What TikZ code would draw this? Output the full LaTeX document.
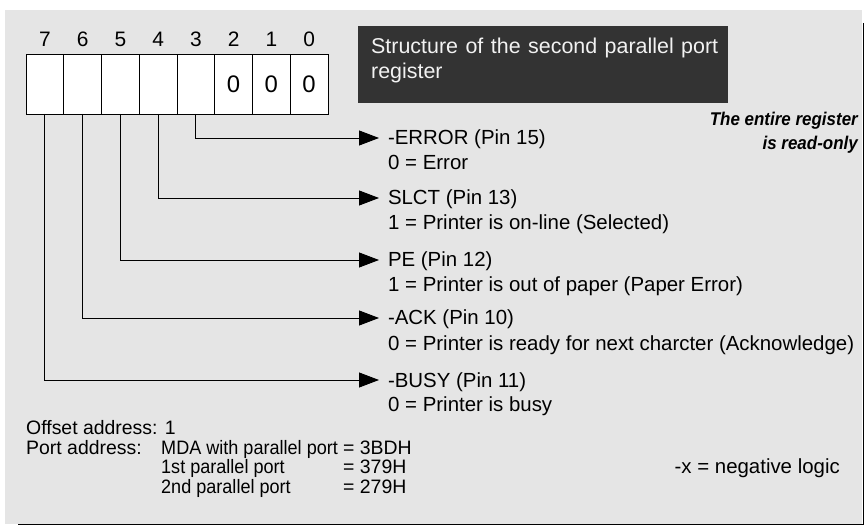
\documentclass[tikz,border=0pt]{standalone}
\usepackage{fontspec}
\setmainfont{Liberation Sans}
\newfontfamily\notefont[FakeStretch=0.92]{Liberation Sans}
\newfontfamily\midfont[FakeStretch=0.93]{Liberation Sans}
\usetikzlibrary{arrows.meta}
\definecolor{bggray}{HTML}{E5E5E5}
\definecolor{titlebg}{HTML}{333333}
\definecolor{titlefg}{HTML}{F2F2F2}
\tikzset{
  cell/.style={draw=black, line width=0.9bp, fill=white, minimum width=37.75bp, minimum height=60bp, inner sep=0pt, outer sep=0pt},
  bitnum/.style={anchor=base, inner sep=0pt, font=\fontsize{21}{25}\selectfont},
  zero/.style={font=\fontsize{24}{28}\selectfont},
  lbl/.style={anchor=base west, inner sep=0pt, outer xsep=9bp, text height=14bp, text depth=0pt, font=\fontsize{20.5}{25}\selectfont},
  txt/.style={anchor=base west, inner sep=0pt, font=\fontsize{20.5}{25}\selectfont},
  info/.style={anchor=base west, inner sep=0pt, font=\fontsize{19.5}{20}\selectfont},
  infomid/.style={anchor=base west, inner sep=0pt, font=\midfont\fontsize{19.5}{20}\selectfont},
  note/.style={anchor=base east, inner sep=0pt, font=\notefont\fontsize{18.5}{22}\selectfont\bfseries\itshape},
  conn/.style={line width=0.9bp, -{Triangle[length=20bp,width=15bp]}},
}
\begin{document}
\begin{tikzpicture}[x=1bp,y=-1bp]
\useasboundingbox (0,0) rectangle (864,525);
% background and shadow
\fill[bggray] (5,10) rectangle (862.4,523.6);
\draw[line width=1.4bp] (863.3,23) -- (863.3,525);
\draw[line width=1.4bp] (18,524.3) -- (864,524.3);
% register cells
\foreach \i in {7,...,0} {
  \node[cell] (b\i) at ({26+37.75*(7-\i)+18.875},84) {};
  \node[bitnum] (n\i) at ({26+37.75*(7-\i)+18.875},47) {\i};
}
\node[zero] (z2) at (b2) {0};
\node[zero] (z1) at (b1) {0};
\node[zero] (z0) at (b0) {0};
% title
\node[fill=titlebg, minimum width=370bp, minimum height=77bp, inner sep=0pt, anchor=north west] (title) at (358,26) {};
\node[anchor=base west, inner sep=0pt, text=titlefg, text width=347bp, align=justify, font=\fontsize{21.5}{25.7}\selectfont] (titletext) at (371,53.3) {Structure of the second parallel port\linebreak register};
% note
\node[note] (note1) at (858,126) {The entire register};
\node[note] (note2) at (858,150) {is read-only};
% labels
\node[lbl] (l3) at (379,145) {-ERROR (Pin 15)};
\node[txt] (d3) at (388,170) {0 = Error};
\node[lbl] (l4) at (379,205) {SLCT (Pin 13)};
\node[txt] (d4) at (388,230) {1 = Printer is on-line (Selected)};
\node[lbl] (l5) at (379,267) {PE (Pin 12)};
\node[txt] (d5) at (388,292) {1 = Printer is out of paper (Paper Error)};
\node[lbl] (l6) at (379,325) {-ACK (Pin 10)};
\node[txt] (d6) at (388,350) {0 = Printer is ready for next charcter (Acknowledge)};
\node[lbl] (l7) at (379,387) {-BUSY (Pin 11)};
\node[txt] (d7) at (388,411) {0 = Printer is busy};
% connectors
\foreach \i in {3,...,7} {
  \draw[conn] (b\i.south) |- (l\i.west);
}
% bottom info
\node[info] (off) at (26,434) {Offset address: 1};
\node[info] (port) at (26,454) {Port address:};
\node[infomid] (mda) at (161,454) {MDA with parallel port};
\node[info] (mdav) at (343,454) {= 3BDH};
\node[infomid] (p1) at (161,473.5) {1st parallel port};
\node[info] (p1v) at (343,473.5) {= 379H};
\node[infomid] (p2) at (161,493) {2nd parallel port};
\node[info] (p2v) at (343,493) {= 279H};
\node[anchor=base east, inner sep=0pt, font=\fontsize{20.5}{25}\selectfont] (neg) at (840,473.5) {-x = negative logic};
\end{tikzpicture}
\end{document}
